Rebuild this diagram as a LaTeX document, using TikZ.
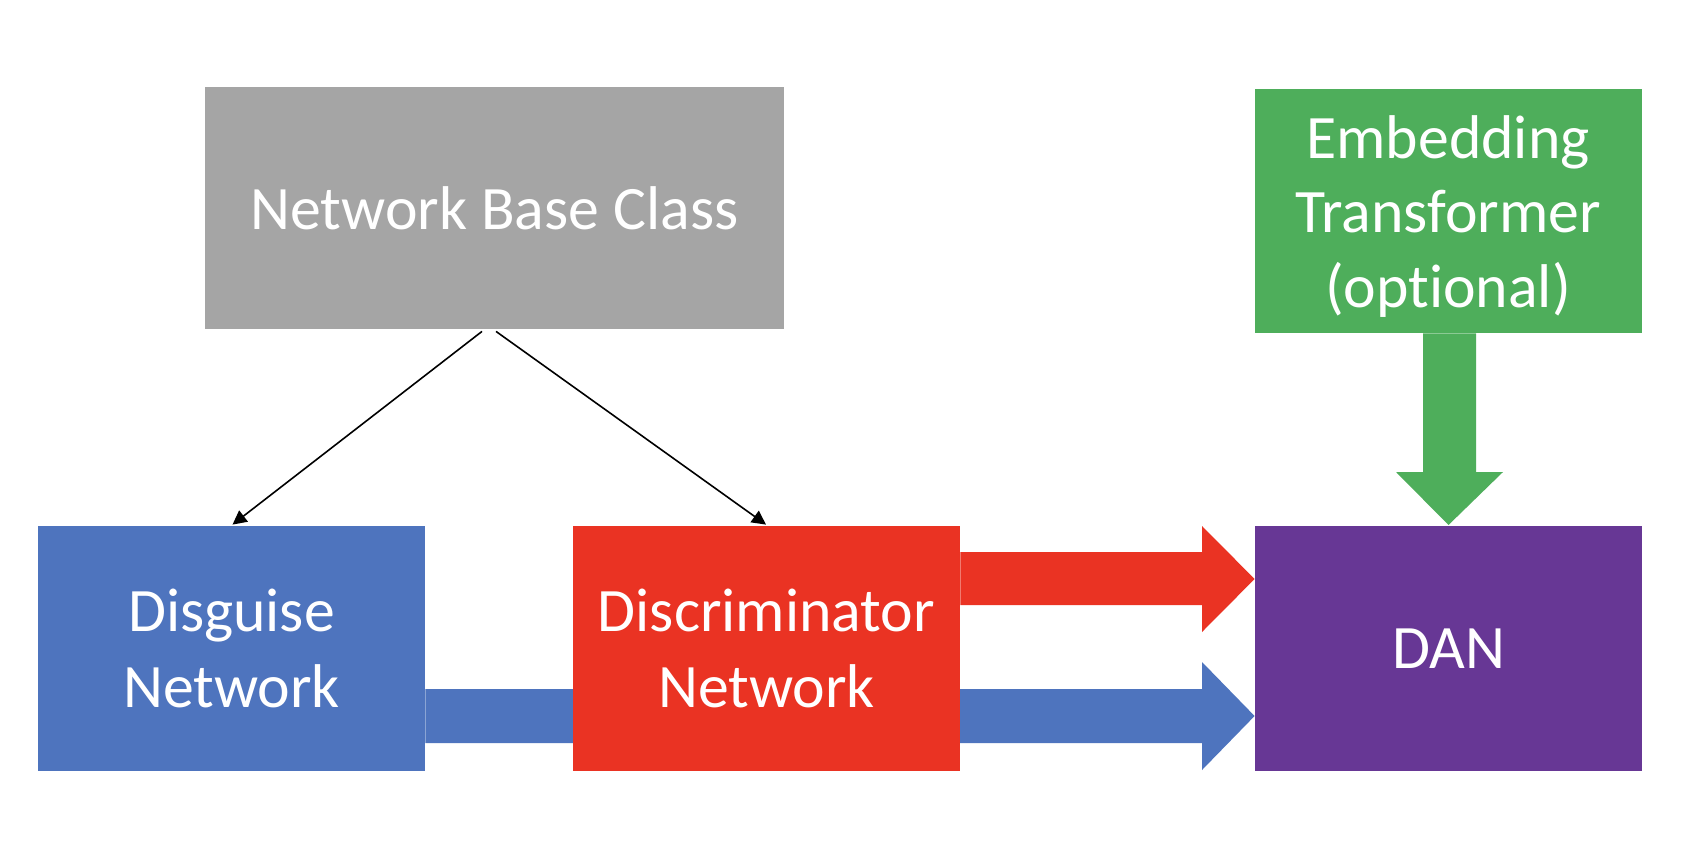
\documentclass[tikz,border=0pt]{standalone}
\usepackage{fontspec}
\setmainfont{Carlito}[Ligatures=CommonOff]
\usetikzlibrary{arrows.meta,backgrounds,calc}
\pgfdeclarelayer{bottom}
\pgfsetlayers{bottom,background,main}
\definecolor{grayc}{RGB}{165,165,165}
\definecolor{greenc}{RGB}{78,174,91}
\definecolor{bluec}{RGB}{78,116,190}
\definecolor{redc}{RGB}{234,51,35}
\definecolor{purplec}{RGB}{103,55,149}
\tikzset{
  box/.style={inner sep=0pt, minimum width=193.5bp, minimum height=122.5bp, align=center, text=white, font=\fontsize{31}{38}\selectfont},
  thin/.style={line width=0.8bp, -{Triangle[length=7bp,width=7bp]}},
}
\begin{document}
\begin{tikzpicture}[x=0.5bp,y=-0.5bp]
\begin{pgfonlayer}{bottom}
\fill[white] (0,0) rectangle (1686,848);
\end{pgfonlayer}
\useasboundingbox (0,0) rectangle (1686,848);
\node[box, fill=grayc, minimum width=289.5bp, minimum height=121bp] (base) at (494.5,208) {Network Base Class};
\node[box, fill=greenc, minimum height=122bp, font=\fontsize{31}{37.5}\selectfont] (emb) at (1448,211) {\raisebox{-3.5bp}[\height][\depth]{\begin{tabular}{@{}c@{}}Embedding\\Transformer\\(optional)\end{tabular}}};
\node[box, fill=bluec] (dis) at (231.5,648.5) {Disguise\\Network};
\node[box, fill=redc] (disc) at (766.5,648.5) {Discriminator\\Network};
\node[box, fill=purplec] (dan) at (1448.5,648.5) {DAN};
\begin{pgfonlayer}{background}
\fill[bluec] (dis.east |- 0,689) -- (1202,689) -- (1202,662) -- (dan.west |- 0,716) -- (1202,770) -- (1202,743) -- (dis.east |- 0,743) -- cycle;
\end{pgfonlayer}
\fill[redc] (disc.east |- 0,552) -- (1202,552) -- (1202,526) -- (dan.west |- 0,579) -- (1202,632) -- (1202,605) -- (disc.east |- 0,605) -- cycle;
\fill[greenc] (1423,0 |- emb.south) -- (1423,472) -- (1396,472) -- (dan.north |- 0,525) -- (1503,472) -- (1476,472) -- (1476,0 |- emb.south) -- cycle;
\draw[thin] ($(base.south)+(-12.5,2)$) -- ($(dis.north)+(1,-1)$);
\draw[thin] ($(base.south)+(1.5,2)$) -- ($(disc.north)+(-0.5,-1)$);
\end{tikzpicture}
\end{document}
